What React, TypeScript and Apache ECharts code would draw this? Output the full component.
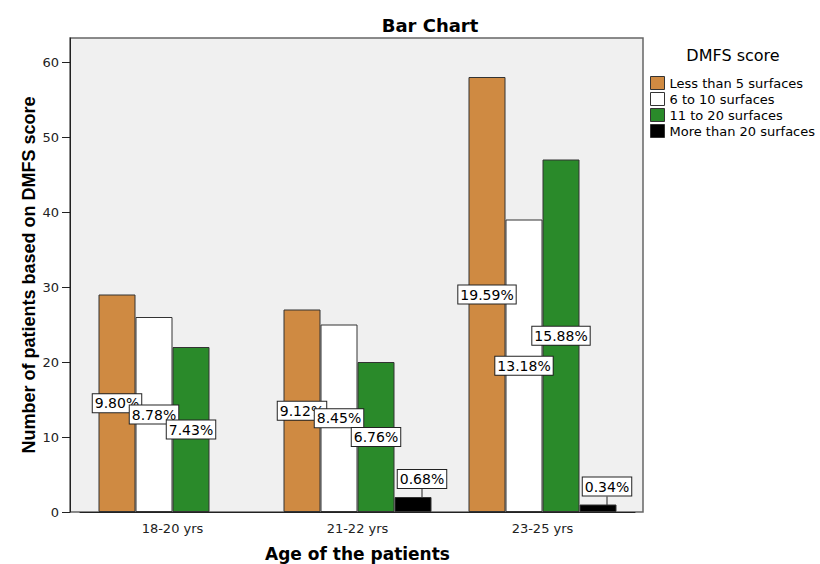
import React, { useEffect, useRef } from "react";
import * as echarts from "echarts";

const categories = ["18-20 yrs", "21-22 yrs", "23-25 yrs"];
const seriesNames = ["Less than 5 surfaces", "6 to 10 surfaces", "11 to 20 surfaces", "More than 20 surfaces"];
const lessThan5 = [29, 27, 58];
const sixTo10 = [26, 25, 39];
const elevenTo20 = [22, 20, 47];
const moreThan20 = [0, 2, 1];
const colors = ["#CF8A42", "#FFFFFF", "#2A8A2A", "#000000"];
const yTicks = [0, 10, 20, 30, 40, 50, 60];

const FONT = "'DejaVu Sans', sans-serif";
const YFONT = "'Liberation Sans', Arial, sans-serif";

export default function App() {
  const ref = useRef<HTMLDivElement>(null);
  useEffect(() => {
    if (!ref.current) return;
    const chart = echarts.init(ref.current, undefined, { renderer: "svg" });
    const all = [lessThan5, sixTo10, elevenTo20, moreThan20];
    const total = all.reduce((s, arr) => s + arr.reduce((a, b) => a + b, 0), 0);
    const labelBase = {
      show: true,
      color: "#000",
      fontFamily: FONT,
      fontSize: 14,
      backgroundColor: "#fff",
      borderColor: "#222",
      borderWidth: 1,
      padding: [2, 2, 2, 2],
      formatter: (p: any) => ((p.value / total) * 100).toFixed(2) + "%",
    };
    const series = all.map((arr, i) => {
      const isLast = i === 3;
      return {
        name: seriesNames[i],
        type: "bar",
        barWidth: 37,
        barGap: "0%",
        itemStyle: { color: colors[i], borderColor: "#333", borderWidth: 1 },
        label: isLast
          ? { ...labelBase, position: "top", distance: 9 }
          : { ...labelBase, position: "inside" },
        labelLayout: isLast ? { dx: 9 } : undefined,
        labelLine: isLast ? { show: true, lineStyle: { color: "#222", width: 1 } } : undefined,
        data: arr.map((v) =>
          v === 0 ? { value: v, label: { show: false }, itemStyle: { borderWidth: 0 } } : v
        ),
      };
    });
    chart.setOption({
      animation: false,
      title: {
        text: "Bar Chart",
        left: 425,
        top: 11,
        textAlign: "center",
        textStyle: { fontFamily: FONT, fontSize: 18, fontWeight: "bold", color: "#000" },
      },
      grid: { left: 80, right: 185, top: 38, bottom: 52, outerBoundsMode: "none", containLabel: false },
      legend: {
        orient: "vertical",
        left: 645,
        top: 70,
        itemWidth: 14,
        itemHeight: 13,
        itemGap: 0,
        icon: "rect",
        itemStyle: { borderColor: "#333", borderWidth: 1 },
        textStyle: { fontFamily: FONT, fontSize: 13, lineHeight: 16, color: "#000", padding: [0, 0, 0, 0] },
        data: seriesNames,
      },
      graphic: [
        {
          type: "rect",
          z: -10,
          silent: true,
          shape: { x: 70, y: 38, width: 573, height: 474 },
          style: { fill: "#F0F0F0", stroke: "#666", lineWidth: 1.5 },
        },
        {
          type: "text",
          x: 733,
          y: 55,
          style: {
            text: "DMFS score",
            fontFamily: FONT,
            fontSize: 16,
            fill: "#000",
            align: "center",
            verticalAlign: "middle",
          },
        },
      ],
      xAxis: {
        type: "category",
        data: categories,
        name: "Age of the patients",
        nameLocation: "middle",
        nameGap: 33,
        nameTextStyle: { fontFamily: FONT, fontSize: 17, fontWeight: "bold", color: "#000" },
        axisLine: { lineStyle: { color: "#222", width: 1 } },
        axisTick: { alignWithLabel: true, length: 6, lineStyle: { color: "#222" } },
        axisLabel: { fontFamily: FONT, fontSize: 13, color: "#222", margin: 10 },
      },
      yAxis: {
        type: "value",
        min: 0,
        max: 63.2,
        interval: 10,
        offset: 10,
        name: "Number of patients based on DMFS score",
        nameLocation: "middle",
        nameGap: 32,
        nameMoveOverlap: false,
        nameTextStyle: { fontFamily: YFONT, fontSize: 18, fontWeight: "bold", color: "#000" },
        axisLine: { show: true, lineStyle: { color: "#222", width: 1 } },
        axisTick: { show: true, length: 8, customValues: yTicks, lineStyle: { color: "#222" } },
        axisLabel: { fontFamily: FONT, fontSize: 13, color: "#222", margin: 11, customValues: yTicks },
        splitLine: { show: false },
      },
      series,
    });
    return () => chart.dispose();
  }, []);
  return (
    <div
      ref={ref}
      style={{ position: "absolute", left: 0, top: 0, width: 820, height: 564 }}
    />
  );
}
